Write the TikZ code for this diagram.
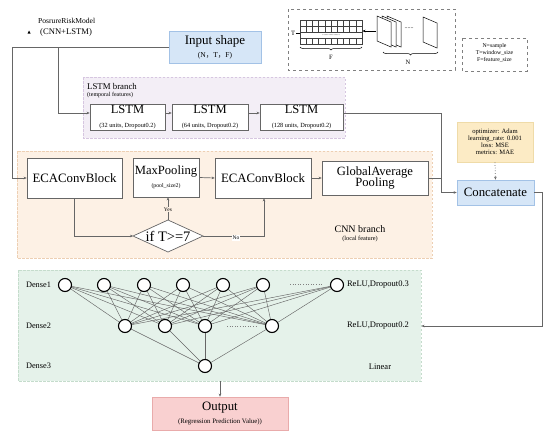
\documentclass[tikz,border=0pt]{standalone}
\usepackage{fontspec}
\setmainfont{Liberation Serif}
\newfontfamily\cjk{Noto Sans CJK SC}
\usetikzlibrary{arrows.meta,decorations.pathreplacing,calc}
\definecolor{bluefill}{HTML}{D6E6F7}
\definecolor{blueline}{HTML}{A3C2E6}
\definecolor{purfill}{HTML}{F3EEF6}
\definecolor{purline}{HTML}{D6C6E0}
\definecolor{orfill}{HTML}{FDF1E5}
\definecolor{orline}{HTML}{EDCFB3}
\definecolor{grfill}{HTML}{E5F2EA}
\definecolor{grline}{HTML}{C5DCCC}
\definecolor{yelfill}{HTML}{FCEBC5}
\definecolor{yelline}{HTML}{EFDBA8}
\definecolor{pinkfill}{HTML}{F9D0D0}
\definecolor{pinkline}{HTML}{E9ABAB}
\definecolor{lin}{HTML}{666666}
\newcommand{\fs}[1]{\fontsize{#1}{#1}\selectfont}
\tikzset{
  blk/.style={draw=lin, line width=0.7pt, fill=white, inner sep=0pt, align=center},
  colbox/.style={draw=#1line, fill=#1fill, line width=0.7pt, inner sep=0pt, align=center},
  region/.style={draw=#1line, fill=#1fill, dashed, line width=0.7pt, dash pattern=on 2.5pt off 1.5pt},
  conn/.style={draw=lin, line width=0.7pt},
  arr/.style={conn, -{Stealth[length=3pt,width=2.6pt]}},
  neuron/.style={circle, draw=black, line width=1.1pt, fill=white, minimum size=13pt, inner sep=0pt},
  wt/.style={draw=lin, line width=0.45pt},
  dotl/.style={draw=gray, line width=0.6pt, dotted},
  small/.style={font=\fs{6.3}, inner sep=0pt}
}
\begin{document}
\begin{tikzpicture}[x=1pt,y=-1pt]
\useasboundingbox (0,0) rectangle (550,439);
\fill[white] (0,0) rectangle (550,439);

% title
\fill[black] (27.5,33.5) -- (30.5,33.5) -- (29,30.5) -- cycle;
\node[anchor=west, inner sep=0pt, font=\fs{7.6}] (title1) at (38,21) {PosrureRiskModel};
\node[anchor=west, inner sep=0pt, font=\fs{8.6}] (title2) at (40,32) {(CNN+LSTM)};

% input
\node[colbox=blue, minimum width=92, minimum height=32] (inp) at (215,47)
  {{\fs{13}Input shape}\\[1pt]{\fs{7.5}(N{\cjk ，}T{\cjk ，}F)}};

% top illustration
\draw[draw=gray, dashed, line width=0.6pt] (288,9) rectangle (455,70);
\draw[draw=gray, dashed, line width=0.6pt] (462,38) rectangle (527,71);
\node[inner sep=0pt, font=\fs{5.8}, align=center] (legend) at (494.5,52.5)
  {N=sample\\[1.2pt]T=window\_size\\[1.2pt]F=feature\_size};
% grid
\begin{scope}[line width=0.5pt, draw=black!75]
\draw (300,20) rectangle (362,44);
\foreach \yy in {26,32,38.5} \draw (300,\yy) -- (362,\yy);
\foreach \i in {1,...,9} {
  \draw ({300+6.2*\i},20) -- ({300+6.2*\i},32);
  \draw ({300+6.2*\i},38.5) -- ({300+6.2*\i},44);
}
\end{scope}
\node[inner sep=0pt, font=\fs{5}] (gdots) at (331,35) {..............};
\node[inner sep=0pt, font=\fs{6.5}] (tlab) at (293,33) {T};
\draw[line width=0.5pt] (296,33) -- (300,33);
\draw[line width=0.5pt, decorate, decoration={brace, amplitude=3pt, mirror}] (300,47) -- (362,47);
\node[inner sep=0pt, font=\fs{6.5}] (flab) at (331,57) {F};
% sheets
\foreach \i in {2,1,0} {
  \draw[line width=0.5pt, fill=white] ({377+5*\i},16) -- ({391+5*\i},22) -- ({391+5*\i},47) -- ({377+5*\i},41) -- cycle;
}
\node[inner sep=0pt, font=\fs{6}] (sdots) at (409,28) {......};
\draw[line width=0.5pt, fill=white] (423,17) -- (437,23) -- (437,48) -- (423,42) -- cycle;
\coordinate (sheetL) at (376,31);
\coordinate (gridR) at (362.5,31);
\draw[line width=0.5pt, -{Stealth[length=3pt,width=2.6pt]}] (sheetL) -- (gridR);
\draw[line width=0.5pt, decorate, decoration={brace, amplitude=3pt, mirror}] (383,52) -- (438,52);
\node[inner sep=0pt, font=\fs{6.5}] (nlab) at (408,62) {N};

% LSTM branch
\draw[region=pur] (83,77) rectangle (345,138);
\node[anchor=west, inner sep=0pt, font=\fs{8.8}] (lstmt) at (87,86) {LSTM branch};
\node[anchor=west, inner sep=0pt, font=\fs{6}] (lstmt2) at (87,95.5) {(temporal features)};
\node[blk, minimum width=75, minimum height=26] (l1) at (127.5,117) {{\fs{12.5}LSTM}\\[1.5pt]{\fs{6.3}(32 units, Dropout0.2)}};
\node[blk, minimum width=76, minimum height=26] (l2) at (210,117) {{\fs{12.5}LSTM}\\[1.5pt]{\fs{6.3}(64 units, Dropout0.2)}};
\node[blk, minimum width=83, minimum height=26] (l3) at (301.5,117) {{\fs{12.5}LSTM}\\[1.5pt]{\fs{6.3}(128 units, Dropout0.2)}};

% CNN branch
\draw[region=or] (17,151) rectangle (432,258);
\node[blk, minimum width=95, minimum height=40, font=\fs{12.8}] (eca1) at (74.5,178) {ECAConvBlock};
\node[blk, minimum width=66, minimum height=39] (mp) at (166,177.5) {{\fs{12.6}MaxPooling}\\[1pt]{\fs{5.8}(pool\_size2)}};
\node[blk, minimum width=96, minimum height=40, font=\fs{12.8}] (eca2) at (263,178) {ECAConvBlock};
\node[blk, minimum width=106, minimum height=34, font=\fs{12.6}] (gap) at (375,178) {GlobalAverage\\[-1pt]Pooling};
\coordinate (dL) at (133,236);
\coordinate (dT) at (168,220);
\coordinate (dR) at (203,236);
\coordinate (dB) at (168,252);
\draw[draw=lin, line width=0.7pt, fill=white] (dL) -- (dT) -- (dR) -- (dB) -- cycle;
\node[inner sep=0pt, font=\fs{14.5}] (cond) at (168,236) {if T>=7};
\node[inner sep=0pt, font=\fs{10}] (cnnt) at (360,229) {CNN branch};
\node[inner sep=0pt, font=\fs{6.3}] (cnnt2) at (360,239) {(local feature)};

% concatenate & optimizer
\node[colbox=yel, minimum width=76, minimum height=40, font=\fs{6.6}] (opt) at (495,142)
  {optimizer: Adam\\[0.3pt]learning\_rate: 0.001\\[0.3pt]loss: MSE\\[0.3pt]metrics: MAE};
\node[colbox=blue, minimum width=77, minimum height=25, font=\fs{12.8}] (cat) at (495.5,192.5) {Concatenate};

% dense region
\draw[region=gr] (18,270) rectangle (421,381);
\node[inner sep=0pt, font=\fs{8.3}] (d1t) at (38.5,285) {Dense1};
\node[inner sep=0pt, font=\fs{8.3}] (d2t) at (38.5,326) {Dense2};
\node[inner sep=0pt, font=\fs{8.3}] (d3t) at (38.5,366) {Dense3};
\node[inner sep=0pt, font=\fs{8.5}] (r1t) at (378,285) {ReLU,Dropout0.3};
\node[inner sep=0pt, font=\fs{8.5}] (r2t) at (378,326) {ReLU,Dropout0.2};
\node[inner sep=0pt, font=\fs{8.5}] (r3t) at (380,366.5) {Linear};
\foreach \x [count=\i] in {65,104,144,183,223,263,337} \coordinate (a\i) at (\x,285);
\foreach \x [count=\i] in {125,165,205,272} \coordinate (b\i) at (\x,326);
\coordinate (c1) at (205,366);
\foreach \i in {1,...,7} \foreach \j in {1,...,4} \draw[wt] (a\i) -- (b\j);
\foreach \j in {1,...,4} \draw[wt] (b\j) -- (c1);
\foreach \i in {1,...,7} \node[neuron] (na\i) at (a\i) {};
\foreach \j in {1,...,4} \node[neuron] (nb\j) at (b\j) {};
\node[neuron] (nc1) at (c1) {};
\draw[dotl] (290,284) -- (322,284);
\draw[dotl] (227,326) -- (258,326);

% output
\node[colbox=pink, minimum width=136, minimum height=33] (out) at (220,413.5)
  {{\fs{12.8}Output}\\[1pt]{\fs{6.8}(Regression Prediction Value))}};

% connectors
\coordinate (j0) at (12,47);
\coordinate (j1) at (58,47);
\draw[conn] (inp.west) -- (j0);
\draw[arr] (j0) |- (eca1.west);
\draw[arr] (j1) |- ([yshift=4pt]l1.west);
\draw[arr] ([yshift=4pt]l1.east) -- ([yshift=4pt]l2.west);
\draw[arr] ([yshift=4pt]l2.east) -- ([yshift=4pt]l3.east -| l3.west);
\coordinate (jr) at (441,113);
\draw[arr] ([yshift=4pt]l3.east) -- (jr) |- (cat.west);
\draw[conn] (gap.east) -- (gap.east -| jr);
\draw[arr] (eca1.south) |- (dL);
\draw[arr] (dT) -- (dT |- mp.south);
\node[inner sep=0.8pt, fill=orfill, font=\fs{5.5}] (yes) at (168,209.5) {Yes};
\coordinate (jn) at (264,236);
\draw[arr] (dR) -- (jn) -- (eca2.south -| jn);
\node[inner sep=1pt, fill=white, font=\fs{5.5}] (no) at (236,238) {No};
\draw[arr] (mp.east) -- (eca2.west);
\draw[arr] (eca2.east) -- (gap.west);
\draw[conn, dotted, line width=0.8pt, -{Stealth[length=3pt,width=2.6pt]}] (opt.south) -- (cat.north);
\coordinate (jc) at (542,192.5);
\coordinate (gR) at (421.5,326);
\draw[arr] (cat.east) -- (jc) |- (gR);
\coordinate (gB) at (220,381);
\draw[arr] (gB) -- (out.north);
\end{tikzpicture}
\end{document}
